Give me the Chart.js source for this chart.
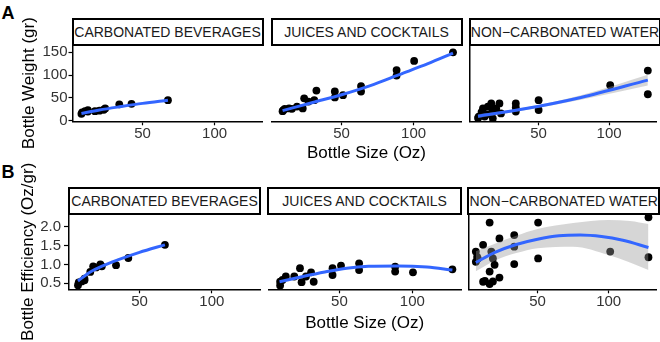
<!DOCTYPE html>
<html lang="en">
<head>
<meta charset="UTF-8">
<title>Bottle size vs weight / efficiency</title>
<script src="https://cdn.jsdelivr.net/npm/chart.js@4.4.1/dist/chart.umd.min.js"></script>
<style>
  body { margin: 0; background: #fff; }
  #fig { position: relative; width: 660px; height: 342px; overflow: hidden; background: #fff;
         font-family: "Liberation Sans", Arial, Helvetica, sans-serif; }
  #fig canvas { position: absolute; left: 0; }
  .strip { position: absolute; box-sizing: border-box; border: 2px solid #000; background: #fff;
           font-size: 14px; color: #1a1a1a; display: flex; align-items: center; justify-content: center;
           white-space: nowrap; }
  .tag { position: absolute; left: 1.5px; font-weight: bold; font-size: 18px; line-height: 1; color: #000; }
</style>
</head>
<body>
<div id="fig">
  <div class="tag" style="top:3.6px">A</div>
  <div class="tag" style="top:162.6px">B</div>
</div>

<script>
// ---- data ----
const facetNames = ['CARBONATED BEVERAGES', 'JUICES AND COCKTAILS', 'NON\u2212CARBONATED WATER'];

const xTicks = [50, 100];
const weightTicks = [0, 50, 100, 150];
const weightTickLabels = ['0', '50', '100', '150'];
const effTicks = [0.5, 1.0, 1.5, 2.0];
const effTickLabels = ['0.5', '1.0', '1.5', '2.0'];

// A: bottle weight (gr) vs bottle size (oz)
const carbWeight = [[7.5,15],[8,18],[10,21],[12,20],[12,23],[16.9,21],[20,22],[23,24],[24,27],[33.8,36],[42.3,37],[67.6,45]];
const juiceWeight = [[9,21],[9.5,23],[10.5,26],[13.5,27],[15.5,26],[19,31],[23,27],[24,49],[27,42],[31,45],[32.5,66],
                     [45.3,64],[45.3,51],[51,56],[63.5,76],[63.5,64],[88.2,111],[88.2,99],[100.4,131],[127.4,150]];
const waterWeight = [[7,6],[7.5,9],[9.5,19],[10.5,27],[11.7,9],[13,14],[14,31],[16.4,38],[16.4,16],[17.5,5],[17.5,24],
                     [19.9,27],[22.2,38],[23.3,16],[33.8,38],[33.8,29],[33.8,20],[50,45],[50,23.5],[100.8,78],[127.5,110],[127.5,58]];

const carbWeightFit = [[7.5,16],[20,23.5],[35,31],[50,38],[67.6,45]];
const juiceWeightFit = [[9,22],[30,40],[50,57],[70,77],[90,101],[110,125],[127.4,148]];
const waterWeightFit = [[7,10],[40,26],[80,51],[127.5,89]];
const waterWeightBand = [[7,6,14],[40,23,29],[80,46,56],[127.5,77,101]]; // x, low, high

// B: bottle efficiency (oz/gr) vs bottle size (oz)
const carbEff = [[7.5,0.45],[8,0.52],[10,0.55],[12,0.62],[12,0.58],[16,0.8],[18,0.95],[20,0.92],[23,1.0],[24,0.95],
                 [33.8,0.98],[42.3,1.17],[67.6,1.52]];
const juiceEff = [[9.4,0.44],[9.4,0.54],[11,0.59],[13.3,0.68],[19.1,0.68],[23,0.9],[24.1,0.53],[27.1,0.68],[30.6,0.79],
                  [32.4,0.54],[45.3,0.9],[45.3,0.72],[51.1,0.97],[63.5,1.03],[63.5,0.85],[88.2,0.94],[88.2,0.81],[100.4,0.79],[127.4,0.87]];
const waterEff = [[6.6,1.34],[6.6,1.07],[7.5,1.2],[8,1.15],[11.7,1.52],[11.7,0.54],[13,0.56],[16.3,2.11],[16.3,0.48],
                  [16.3,0.81],[17.5,1.34],[18.6,1.16],[18.6,0.55],[19.8,0.99],[23.2,1.69],[23.2,0.65],[33.6,1.78],[33.6,1.47],
                  [33.6,1.01],[50.4,2.11],[50.4,1.16],[101.1,1.34],[128,2.25],[128,1.19]];

const carbEffFit = [[7.5,0.56],[16,0.8],[25,0.97],[35,1.12],[50,1.32],[67.6,1.52]];
const juiceEffFit = [[9,0.54],[25,0.68],[40,0.8],[55,0.9],[70,0.95],[90,0.96],[110,0.93],[127.4,0.85]];
const waterEffFit = [[6.6,1.05],[20,1.32],[35,1.53],[50,1.67],[65,1.76],[80,1.78],[95,1.74],[110,1.64],[128,1.45]];
const waterEffBand = [[6.6,0.82,1.35],[20,1.1,1.55],[35,1.3,1.76],[50,1.43,1.94],[75,1.47,2.1],[100,1.25,2.18],[115,1.05,2.15],[128,0.85,2.07]];

// ---- layout (pixel geometry of the panels) ----
const W = 660;
const xRange = [1.3, 133.3];
const rows = [
  { canvasTop: 0, canvasH: 171, areaTop: 45, areaBottom: 121.3, stripTop: 18,
    panels: [[72.5,262.5],[271.5,461.5],[470,660]],
    yMin: -1.3, yMax: 166, yTicks: weightTicks, yLabels: weightTickLabels,
    yTitle: 'Bottle Weight (gr)', yTitleX: 29.5, xTitleY: 153, yTickLen: 4, yTickPad: 1,
    facets: [
      { points: carbWeight,  fit: carbWeightFit },
      { points: juiceWeight, fit: juiceWeightFit },
      { points: waterWeight, fit: waterWeightFit, band: waterWeightBand }
    ] },
  { canvasTop: 150, canvasH: 192, areaTop: 214.3, areaBottom: 289.3, stripTop: 187,
    panels: [[69,260],[268.3,461],[468.3,659.3]],
    yMin: 0.34, yMax: 2.33, yTicks: effTicks, yLabels: effTickLabels,
    yTitle: 'Bottle Efficiency (Oz/gr)', yTitleX: 28.5, xTitleY: 323, yTickLen: 5, yTickPad: 3,
    facets: [
      { points: carbEff,  fit: carbEffFit },
      { points: juiceEff, fit: juiceEffFit },
      { points: waterEff, fit: waterEffFit, band: waterEffBand }
    ] }
];

Chart.defaults.font.family = '"Liberation Sans", Arial, Helvetica, sans-serif';
Chart.defaults.color = '#333';

const xy = arr => arr.map(([x, y]) => ({ x, y }));

function buildDatasets(f) {
  const sets = [{
    data: xy(f.fit), showLine: true, borderColor: '#3366FF', borderWidth: 3,
    pointRadius: 0, tension: 0.4, cubicInterpolationMode: 'monotone', fill: false
  }];
  if (f.band) {
    sets.push({
      data: f.band.map(([x, lo, hi]) => ({ x, y: hi })), showLine: true,
      borderColor: 'rgba(0,0,0,0)', borderWidth: 1, pointRadius: 0,
      cubicInterpolationMode: 'monotone', fill: '+1', backgroundColor: 'rgba(153,153,153,0.4)'
    });
    sets.push({
      data: f.band.map(([x, lo]) => ({ x, y: lo })), showLine: true,
      borderColor: 'rgba(0,0,0,0)', borderWidth: 1, pointRadius: 0,
      cubicInterpolationMode: 'monotone', fill: false
    });
  }
  sets.push({
    data: xy(f.points), showLine: false, pointRadius: 3.9,
    pointBackgroundColor: '#000', pointBorderColor: '#000', pointBorderWidth: 0
  });
  return sets;
}

const fig = document.getElementById('fig');

rows.forEach(row => {
  row.facets.forEach((f, i) => {
    const [pl, pr] = row.panels[i];

    // strip label
    const strip = document.createElement('div');
    strip.className = 'strip';
    strip.textContent = facetNames[i];
    Object.assign(strip.style, {
      left: (pl - 1) + 'px', width: (pr - pl + 2) + 'px',
      top: row.stripTop + 'px', height: (row.areaTop - row.stripTop + 1) + 'px'
    });

    const canvas = document.createElement('canvas');
    canvas.width = W;
    canvas.height = row.canvasH;
    canvas.style.top = row.canvasTop + 'px';
    fig.appendChild(canvas);
    fig.appendChild(strip);

    const first = i === 0;
    const yW = first ? pl : 0;
    const xH = row.canvasTop + row.canvasH - row.areaBottom;

    new Chart(canvas, {
      type: 'line',
      data: { datasets: buildDatasets(f) },
      options: {
        responsive: false,
        animation: false,
        events: [],
        layout: { padding: { left: first ? 0 : pl, right: W - pr, top: row.areaTop - row.canvasTop, bottom: 0 } },
        plugins: { legend: { display: false }, tooltip: { enabled: false } },
        scales: {
          x: {
            type: 'linear', min: xRange[0], max: xRange[1],
            afterBuildTicks: s => { s.ticks = xTicks.map(v => ({ value: v })); },
            afterFit: s => { s.height = xH; },
            ticks: { autoSkip: false, maxRotation: 0, padding: 0, color: '#333', font: { size: 15 } },
            grid: { display: true, drawOnChartArea: false, drawTicks: true, tickLength: 4, tickColor: '#000', tickWidth: 1.2 },
            border: { display: true, color: '#000', width: 1.5 },
            title: {
              display: i === 1, text: 'Bottle Size (Oz)', color: '#000', font: { size: 17 },
              padding: { top: 0, bottom: row.canvasTop + row.canvasH - row.xTitleY - 10.2 }
            }
          },
          y: {
            type: 'linear', min: row.yMin, max: row.yMax,
            display: i !== 1,
            afterBuildTicks: s => { s.ticks = row.yTicks.map(v => ({ value: v })); },
            afterFit: s => { s.width = yW; },
            ticks: {
              display: first, autoSkip: false, padding: row.yTickPad, color: '#333', font: { size: 15 },
              callback: (v, idx) => row.yLabels[idx]
            },
            grid: { display: first, drawOnChartArea: false, drawTicks: true, tickLength: row.yTickLen, tickColor: '#000', tickWidth: 1.2 },
            border: { display: true, color: '#000', width: 1.5 },
            title: {
              display: first, text: row.yTitle, color: '#000', font: { size: 17 },
              padding: { top: row.yTitleX - 10.2, bottom: 0 }
            }
          }
        }
      }
    });
  });
});
</script>
</body>
</html>
